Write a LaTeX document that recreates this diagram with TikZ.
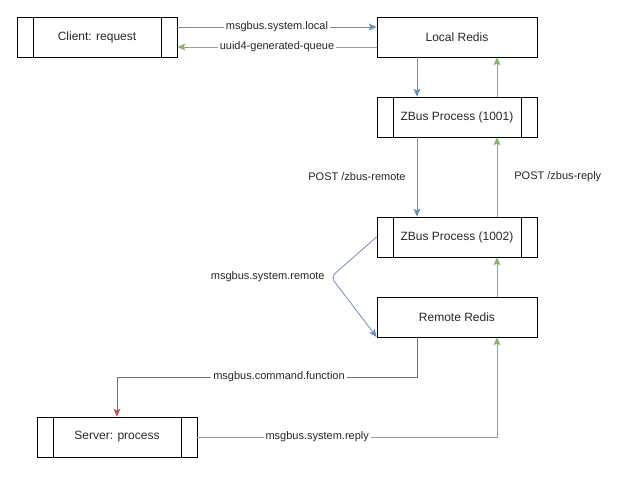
\documentclass[tikz,border=0pt]{standalone}
\usepackage{fontspec}
\setmainfont{Liberation Sans}
\usetikzlibrary{arrows.meta}
\definecolor{busblue}{HTML}{6C8EBF}
\definecolor{busgreen}{HTML}{82B366}
\definecolor{busred}{HTML}{B85450}
\tikzset{
  box/.style={draw,line width=0.8pt,minimum width=160pt,minimum height=40pt,
    inner sep=0pt,font=\fontsize{12}{14}\selectfont,text=black!85},
  proc/.style={box,path picture={
      \draw[line width=0.8pt] ([xshift=16pt]path picture bounding box.north west)
        -- ([xshift=16pt]path picture bounding box.south west);
      \draw[line width=0.8pt] ([xshift=-16pt]path picture bounding box.north east)
        -- ([xshift=-16pt]path picture bounding box.south east);}},
  lbl/.style={fill=white,inner sep=2pt,font=\fontsize{11}{13}\selectfont,text=black!85},
  tip/.style={-{Stealth[length=8pt,width=7pt,inset=2pt]}},
  req/.style={tip,draw=busblue,fill=busblue,line width=0.8pt},
  rep/.style={tip,draw=busgreen,fill=busgreen,line width=0.8pt},
  cmd/.style={tip,draw=busred,fill=busred,line width=0.8pt}
}
\begin{document}
\begin{tikzpicture}[x=1pt,y=-1pt]
  \useasboundingbox (0,0) rectangle (625,482);
  \node[proc] (client) at (97,37) {Client: request};
  \node[box] (local) at (457,37) {Local Redis};
  \node[proc] (zbusA) at (457,117) {ZBus Process (1001)};
  \node[proc] (zbusB) at (457,237) {ZBus Process (1002)};
  \node[box] (remote) at (457,317) {Remote Redis};
  \node[proc] (server) at (117,437) {Server: process};
  \coordinate (bend) at (331,277);
  \coordinate (cmdA) at (417,377);
  \coordinate (cmdB) at (117,377);
  \coordinate (repA) at (497,437);
  \begin{scope}[req]
    \draw ([yshift=10pt]client.east) -- node[lbl]{msgbus.system.local} ([yshift=10pt]local.west);
    \draw ([xshift=-40pt]local.south) -- ([xshift=-40pt]zbusA.north);
    \draw ([xshift=-40pt]zbusA.south) -- node[lbl,left=9pt]{POST /zbus-remote} ([xshift=-40pt]zbusB.north);
    \draw[rounded corners=5pt] (zbusB.west) -- (bend) -- ([yshift=-20pt]remote.west);
    \node[lbl,left=4pt] (remoteLbl) at (bend) {msgbus.system.remote};
  \end{scope}
  \begin{scope}[rep]
    \draw ([yshift=-10pt]local.west) -- node[lbl]{uuid4-generated-queue} ([yshift=-10pt]client.east);
    \draw ([xshift=40pt]zbusA.north) -- ([xshift=40pt]local.south);
    \draw ([xshift=40pt]zbusB.north) -- node[lbl,right=15pt]{POST /zbus-reply} ([xshift=40pt]zbusA.south);
    \draw ([xshift=40pt]remote.north) -- ([xshift=40pt]zbusB.south);
    \draw (server.east) -- node[lbl,pos=0.4]{msgbus.system.reply} (repA) -- ([xshift=40pt]remote.south);
  \end{scope}
  \begin{scope}[cmd]
    \draw ([xshift=-40pt]remote.south) -- (cmdA) -- node[lbl,pos=0.46]{msgbus.command.function} (cmdB) -- (server.north);
  \end{scope}
\end{tikzpicture}
\end{document}
